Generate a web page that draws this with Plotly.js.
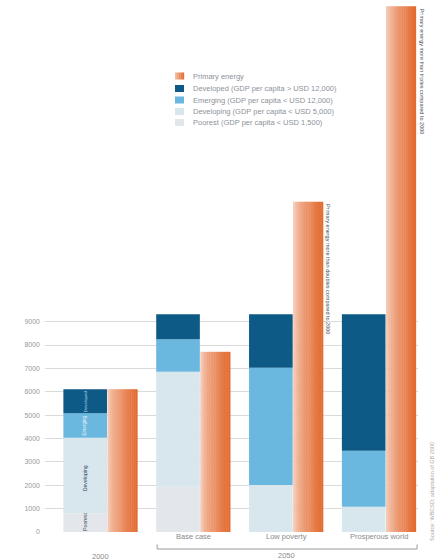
<!DOCTYPE html>
<html><head><meta charset="utf-8">
<script src="https://cdn.plot.ly/plotly-3.0.1.min.js"></script>
<style>html,body{margin:0;padding:0;background:#fff}#chart{width:440px;height:560px}</style>
</head><body><div id="chart"></div>
<script>
// ---- data (Mtoe) ----
const categories = ['2000', 'Base case', 'Low poverty', 'Prosperous world'];
const poorest    = [800, 1940, 0, 0];
const developing = [3230, 4920, 2010, 1080];
const emerging   = [1050, 1390, 5020, 2400];
const developed  = [1030, 1070, 2290, 5840];
const primaryEnergy = [6110, 7710, 14130, 22500];
const yTicks = [0, 1000, 2000, 3000, 4000, 5000, 6000, 7000, 8000, 9000];
const yTickLabels = ['0', '1000', '2000', '3000', '4000', '5000', '6000', '7000', '8000', '9000'];
const seriesNames = ['Primary energy', 'Developed (GDP per capita > USD 12,000)', 'Emerging (GDP per capita < USD 12,000)', 'Developing (GDP per capita < USD 5,000)', 'Poorest (GDP per capita < USD 1,500)'];
const insideLabels = ['Developed', 'Emerging', 'Developing', 'Poorest'];

// ---- styling ----
const COL = {developed: '#0e5a87', emerging: '#6ab7df', developing: '#d8e6ee', poorest: '#e3e6ea'};
const ORANGE_L = [247, 212, 196], ORANGE_R = [226, 104, 44];
const STACK_OFF = -0.4, STACK_W = 0.47, PRIM_OFF = 0.075, PRIM_W = 0.325;
const PL = 45, PR = 418, PT = 5, PB = 532;
const px = x => (x - PL) / (PR - PL);
const py = y => (PB - y) / (PB - PT);
const FONT = 'Liberation Sans, Arial, sans-serif';

function mix(t) {
  const c = ORANGE_L.map((v, i) => Math.round(v + (ORANGE_R[i] - v) * Math.pow(t, 0.65)));
  return `rgb(${c[0]},${c[1]},${c[2]})`;
}

function cum(...arrs) { return arrs[0].map((_, i) => arrs.reduce((s, a) => s + a[i], 0)); }

const traces = [];
const stackDefs = [
  ['Poorest', poorest, COL.poorest, []],
  ['Developing', developing, COL.developing, [poorest]],
  ['Emerging', emerging, COL.emerging, [poorest, developing]],
  ['Developed', developed, COL.developed, [poorest, developing, emerging]]
];
stackDefs.forEach(([name, vals, color, below]) => {
  traces.push({
    type: 'bar', name, x: categories, y: vals,
    base: below.length ? cum(...below) : categories.map(() => 0),
    offset: STACK_OFF, width: STACK_W,
    marker: {color, line: {width: 0}}, hoverinfo: 'skip', showlegend: false
  });
});
const N = 14;
for (let i = 0; i < N; i++) {
  traces.push({
    type: 'bar', name: 'Primary energy', x: categories, y: primaryEnergy,
    offset: PRIM_OFF + i * PRIM_W / N, width: PRIM_W / N + (i < N - 1 ? 0.004 : 0),
    marker: {color: mix((i + 0.5) / N), line: {width: 0}}, hoverinfo: 'skip', showlegend: false
  });
}

const shapes = [];
const annotations = [];

// legend
const legY = [76, 88.5, 100, 111.5, 122.5];
const legColors = [null, COL.developed, COL.emerging, COL.developing, COL.poorest];
seriesNames.forEach((name, k) => {
  const y = legY[k];
  if (k === 0) {
    const M = 5;
    for (let j = 0; j < M; j++) {
      shapes.push({type: 'rect', xref: 'paper', yref: 'paper',
        x0: px(175 + j * 9 / M), x1: px(175 + (j + 1) * 9 / M + 0.2), y0: py(y + 3.5), y1: py(y - 3.5),
        fillcolor: mix((j + 0.5) / M), line: {width: 0}});
    }
  } else {
    shapes.push({type: 'rect', xref: 'paper', yref: 'paper',
      x0: px(175), x1: px(184), y0: py(y + 3.5), y1: py(y - 3.5),
      fillcolor: legColors[k], line: {width: 0}});
  }
  annotations.push({xref: 'paper', yref: 'paper', x: px(191), y: py(y), xanchor: 'left', yanchor: 'middle',
    text: name, showarrow: false, font: {family: FONT, size: 7.5, color: '#8c929a'}});
});

// category labels (use category index so "2000" is not read as a number)
categories.forEach((c, i) => {
  annotations.push({xref: 'x', yref: 'paper', x: i, y: i === 0 ? py(556) : py(536.5),
    xanchor: 'center', yanchor: 'middle', text: c, showarrow: false,
    font: {family: FONT, size: 7.5, color: '#8a8a8a'}});
});
// 2050 bracket
shapes.push({type: 'line', xref: 'x', yref: 'paper', x0: 0.61, x1: 3.41, y0: py(549), y1: py(549), line: {color: '#9a9a9a', width: 1}});
shapes.push({type: 'line', xref: 'x', yref: 'paper', x0: 0.61, x1: 0.61, y0: py(549), y1: py(544.5), line: {color: '#9a9a9a', width: 1}});
shapes.push({type: 'line', xref: 'x', yref: 'paper', x0: 3.41, x1: 3.41, y0: py(549), y1: py(544.5), line: {color: '#9a9a9a', width: 1}});
annotations.push({xref: 'x', yref: 'paper', x: 2.0, y: py(555), xanchor: 'center', yanchor: 'middle',
  text: '2050', showarrow: false, font: {family: FONT, size: 7.5, color: '#8a8a8a'}});

// labels inside the 2000 stacked bar
const insideY = [cum(poorest, developing, emerging)[0] + developed[0] / 2,
                 cum(poorest, developing)[0] + emerging[0] / 2,
                 2300, 430];
const insideSize = [4.4, 4.6, 5.2, 5.2];
const insideColor = ['#bcd6ea', '#e8f3fa', '#33465a', '#33465a'];
insideLabels.forEach((t, k) => {
  annotations.push({xref: 'x', yref: 'y', x: 0, xshift: -15.5, y: insideY[k],
    xanchor: 'center', yanchor: 'middle', textangle: -90, text: t, showarrow: false,
    borderpad: 0, font: {family: FONT, size: insideSize[k], color: insideColor[k]}});
});

// notes on primary bars
annotations.push({xref: 'x', yref: 'y', x: 2, xshift: 37.5, y: primaryEnergy[2],
  xanchor: 'left', yanchor: 'top', textangle: 90, showarrow: false,
  text: 'Primary energy more than doubles compared to 2000',
  font: {family: FONT, size: 5.5, color: '#4a4a4a'}});
annotations.push({xref: 'x', yref: 'y', x: 3, xshift: 37.5, y: primaryEnergy[3],
  xanchor: 'left', yanchor: 'top', textangle: 90, showarrow: false,
  text: 'Primary energy more than triples compared to 2000',
  font: {family: FONT, size: 5.5, color: '#4a4a4a'}});
// source
annotations.push({xref: 'paper', yref: 'paper', x: px(432), y: py(492), xanchor: 'center', yanchor: 'middle',
  textangle: -90, showarrow: false, text: 'Source: WBCSD; adaptation of GB 2000',
  font: {family: FONT, size: 5.5, color: '#a8a8a8'}});

const layout = {
  width: 440, height: 560,
  margin: {l: PL, r: 440 - PR, t: PT, b: 560 - PB, pad: 0},
  paper_bgcolor: '#ffffff', plot_bgcolor: '#ffffff',
  barmode: 'overlay', showlegend: false,
  font: {family: FONT},
  xaxis: {type: 'category', categoryorder: 'array', categoryarray: categories,
    range: [-0.598, 3.42], showticklabels: false, showgrid: false, zeroline: false, showline: false, ticks: ''},
  yaxis: {range: [0, 22550], tickvals: yTicks, ticktext: yTickLabels, showgrid: true,
    gridcolor: '#dadada', gridwidth: 1, zeroline: false, showline: false, ticks: '',
    ticklabelstandoff: 4, tickfont: {family: FONT, size: 7, color: '#9a9a9a'}},
  shapes, annotations
};

Plotly.newPlot('chart', traces, layout, {displayModeBar: false, staticPlot: true});
</script>
</body></html>
